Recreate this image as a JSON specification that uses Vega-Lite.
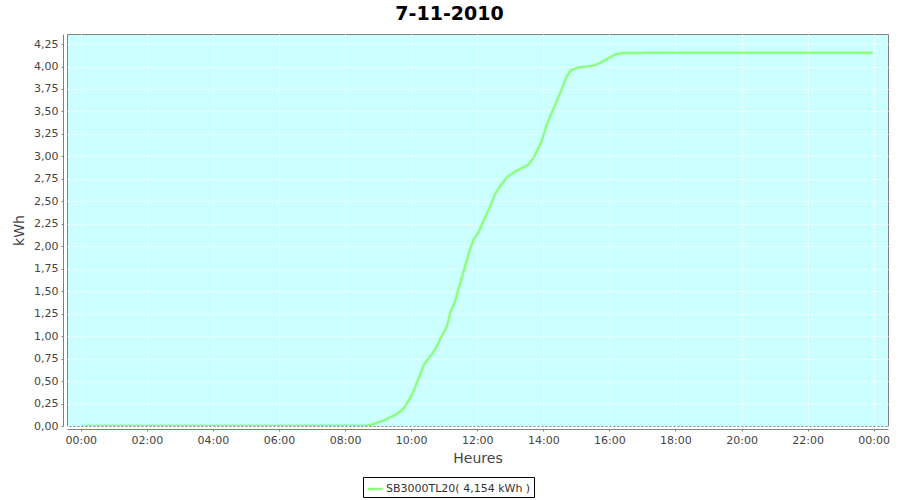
{
  "$schema": "https://vega.github.io/schema/vega-lite/v6.json",
  "width": 821,
  "height": 392,
  "autosize": {"type": "none"},
  "padding": {"left": 67, "top": 34, "right": 12, "bottom": 74},
  "background": "white",
  "title": {
    "text": "7-11-2010",
    "font": "DejaVu Sans",
    "fontSize": 19,
    "fontWeight": "bold",
    "color": "#000000",
    "anchor": "middle",
    "dx": -28,
    "offset": 10
  },
  "config": {
    "view": {"stroke": "#808080", "fill": "#CCFFFF"},
    "axis": {
      "labelFont": "DejaVu Sans",
      "labelFontSize": 11,
      "labelColor": "#444444",
      "titleFont": "DejaVu Sans",
      "titleFontSize": 14,
      "titleFontWeight": "normal",
      "titleColor": "#444444",
      "domainColor": "#808080",
      "tickColor": "#808080",
      "tickSize": 2,
      "gridColor": "#FFFFFF",
      "gridDash": [2, 2],
      "gridWidth": 1,
      "gridOpacity": 1
    }
  },
  "data": {
    "values": [
      {"time": "2010-11-07T00:03:00Z", "kwh": 0},
      {"time": "2010-11-07T06:00:00Z", "kwh": 0},
      {"time": "2010-11-07T08:40:00Z", "kwh": 0.005},
      {"time": "2010-11-07T08:50:00Z", "kwh": 0.02},
      {"time": "2010-11-07T09:00:00Z", "kwh": 0.04},
      {"time": "2010-11-07T09:10:00Z", "kwh": 0.06},
      {"time": "2010-11-07T09:20:00Z", "kwh": 0.09},
      {"time": "2010-11-07T09:30:00Z", "kwh": 0.12},
      {"time": "2010-11-07T09:40:00Z", "kwh": 0.16},
      {"time": "2010-11-07T09:46:00Z", "kwh": 0.19},
      {"time": "2010-11-07T09:52:00Z", "kwh": 0.25},
      {"time": "2010-11-07T10:01:00Z", "kwh": 0.34},
      {"time": "2010-11-07T10:07:00Z", "kwh": 0.43},
      {"time": "2010-11-07T10:13:00Z", "kwh": 0.52},
      {"time": "2010-11-07T10:18:00Z", "kwh": 0.6},
      {"time": "2010-11-07T10:22:00Z", "kwh": 0.67},
      {"time": "2010-11-07T10:30:00Z", "kwh": 0.74},
      {"time": "2010-11-07T10:38:00Z", "kwh": 0.8},
      {"time": "2010-11-07T10:47:00Z", "kwh": 0.89},
      {"time": "2010-11-07T10:53:00Z", "kwh": 0.97},
      {"time": "2010-11-07T10:59:00Z", "kwh": 1.04},
      {"time": "2010-11-07T11:05:00Z", "kwh": 1.11},
      {"time": "2010-11-07T11:11:00Z", "kwh": 1.26},
      {"time": "2010-11-07T11:20:00Z", "kwh": 1.39},
      {"time": "2010-11-07T11:29:00Z", "kwh": 1.59},
      {"time": "2010-11-07T11:38:00Z", "kwh": 1.78},
      {"time": "2010-11-07T11:45:00Z", "kwh": 1.93},
      {"time": "2010-11-07T11:49:00Z", "kwh": 2.0},
      {"time": "2010-11-07T11:54:00Z", "kwh": 2.08},
      {"time": "2010-11-07T12:02:00Z", "kwh": 2.15},
      {"time": "2010-11-07T12:11:00Z", "kwh": 2.28},
      {"time": "2010-11-07T12:18:00Z", "kwh": 2.37},
      {"time": "2010-11-07T12:24:00Z", "kwh": 2.45},
      {"time": "2010-11-07T12:33:00Z", "kwh": 2.59},
      {"time": "2010-11-07T12:42:00Z", "kwh": 2.67},
      {"time": "2010-11-07T12:48:00Z", "kwh": 2.72},
      {"time": "2010-11-07T12:54:00Z", "kwh": 2.77},
      {"time": "2010-11-07T13:09:00Z", "kwh": 2.83},
      {"time": "2010-11-07T13:21:00Z", "kwh": 2.87},
      {"time": "2010-11-07T13:33:00Z", "kwh": 2.91},
      {"time": "2010-11-07T13:42:00Z", "kwh": 2.98},
      {"time": "2010-11-07T13:51:00Z", "kwh": 3.09},
      {"time": "2010-11-07T13:57:00Z", "kwh": 3.17},
      {"time": "2010-11-07T14:06:00Z", "kwh": 3.35},
      {"time": "2010-11-07T14:15:00Z", "kwh": 3.48},
      {"time": "2010-11-07T14:24:00Z", "kwh": 3.61},
      {"time": "2010-11-07T14:33:00Z", "kwh": 3.74},
      {"time": "2010-11-07T14:42:00Z", "kwh": 3.89},
      {"time": "2010-11-07T14:51:00Z", "kwh": 3.96},
      {"time": "2010-11-07T15:04:00Z", "kwh": 3.99},
      {"time": "2010-11-07T15:31:00Z", "kwh": 4.01},
      {"time": "2010-11-07T15:43:00Z", "kwh": 4.04},
      {"time": "2010-11-07T15:58:00Z", "kwh": 4.09},
      {"time": "2010-11-07T16:13:00Z", "kwh": 4.14},
      {"time": "2010-11-07T16:26:00Z", "kwh": 4.15},
      {"time": "2010-11-07T17:00:00Z", "kwh": 4.15},
      {"time": "2010-11-07T17:05:00Z", "kwh": 4.154},
      {"time": "2010-11-07T23:58:00Z", "kwh": 4.154}
    ]
  },
  "mark": {"type": "line", "strokeWidth": 2.5, "interpolate": "linear", "clip": true},
  "encoding": {
    "x": {
      "field": "time",
      "type": "temporal",
      "scale": {
        "type": "utc",
        "domain": [
          {"year": 2010, "month": 11, "date": 6, "hours": 23, "minutes": 35, "utc": true},
          {"year": 2010, "month": 11, "date": 8, "hours": 0, "minutes": 26, "utc": true}
        ]
      },
      "axis": {
        "title": "Heures",
        "labelExpr": "utcFormat(datum.value, '%H:%M')",
        "offset": 3,
        "labelPadding": 3,
        "titlePadding": 6,
        "labelFlush": false,
        "labelOverlap": false,
        "values": [
          {"year": 2010, "month": 11, "date": 7, "hours": 0, "utc": true},
          {"year": 2010, "month": 11, "date": 7, "hours": 2, "utc": true},
          {"year": 2010, "month": 11, "date": 7, "hours": 4, "utc": true},
          {"year": 2010, "month": 11, "date": 7, "hours": 6, "utc": true},
          {"year": 2010, "month": 11, "date": 7, "hours": 8, "utc": true},
          {"year": 2010, "month": 11, "date": 7, "hours": 10, "utc": true},
          {"year": 2010, "month": 11, "date": 7, "hours": 12, "utc": true},
          {"year": 2010, "month": 11, "date": 7, "hours": 14, "utc": true},
          {"year": 2010, "month": 11, "date": 7, "hours": 16, "utc": true},
          {"year": 2010, "month": 11, "date": 7, "hours": 18, "utc": true},
          {"year": 2010, "month": 11, "date": 7, "hours": 20, "utc": true},
          {"year": 2010, "month": 11, "date": 7, "hours": 22, "utc": true},
          {"year": 2010, "month": 11, "date": 8, "hours": 0, "utc": true}
        ]
      }
    },
    "y": {
      "field": "kwh",
      "type": "quantitative",
      "scale": {"domain": [0, 4.362], "nice": false, "zero": true},
      "axis": {
        "title": "kWh",
        "offset": 4,
        "labelPadding": 3,
        "titlePadding": 7,
        "labelFlush": false,
        "labelOverlap": false,
        "values": [0, 0.25, 0.5, 0.75, 1, 1.25, 1.5, 1.75, 2, 2.25, 2.5, 2.75, 3, 3.25, 3.5, 3.75, 4, 4.25],
        "labelExpr": "replace(format(datum.value, '.2f'), '.', ',')"
      }
    },
    "color": {
      "datum": "SB3000TL20( 4,154 kWh )",
      "type": "nominal",
      "scale": {"range": ["#8cff80"]},
      "legend": {
        "title": null,
        "orient": "none",
        "legendX": 296,
        "legendY": 443,
        "strokeColor": "#000000",
        "padding": 3,
        "symbolType": "stroke",
        "symbolSize": 225,
        "symbolStrokeWidth": 2.5,
        "labelFont": "DejaVu Sans",
        "labelFontSize": 11,
        "labelColor": "#333333",
        "labelOffset": 2
      }
    }
  }
}
